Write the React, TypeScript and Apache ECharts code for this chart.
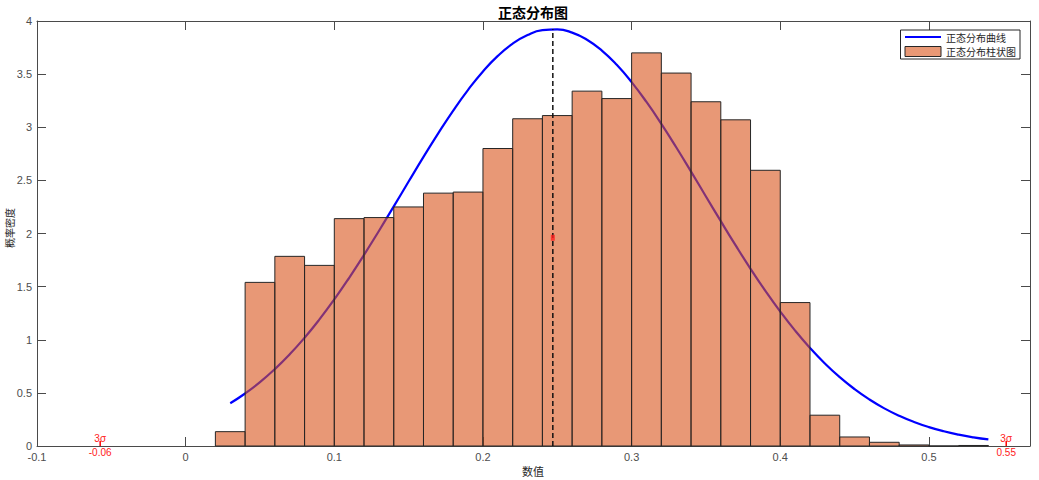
import React, { useEffect, useRef } from "react";
import * as echarts from "echarts";

// Histogram bins (left edge, right edge) and heights (probability density)
const binLeft = [0.02, 0.04, 0.06, 0.08, 0.10, 0.12, 0.14, 0.16, 0.18, 0.20, 0.22, 0.24, 0.26, 0.28, 0.30, 0.32, 0.34, 0.36, 0.38, 0.40, 0.42, 0.44, 0.46, 0.48, 0.50, 0.52];
const binRight = [0.04, 0.06, 0.08, 0.10, 0.12, 0.14, 0.16, 0.18, 0.20, 0.22, 0.24, 0.26, 0.28, 0.30, 0.32, 0.34, 0.36, 0.38, 0.40, 0.42, 0.44, 0.46, 0.48, 0.50, 0.52, 0.54];
const binHeight = [0.135, 1.54, 1.785, 1.70, 2.14, 2.15, 2.25, 2.38, 2.39, 2.80, 3.08, 3.11, 3.34, 3.27, 3.70, 3.51, 3.24, 3.07, 2.595, 1.35, 0.29, 0.085, 0.035, 0.01, 0, 0.005];

// Normal curve
const curveX = [0.03, 0.04, 0.05, 0.06, 0.07, 0.08, 0.09, 0.10, 0.11, 0.12, 0.13, 0.14, 0.15, 0.16, 0.17, 0.18, 0.19, 0.20, 0.21, 0.22, 0.23, 0.24, 0.25, 0.26, 0.27, 0.28, 0.29, 0.30, 0.31, 0.32, 0.33, 0.34, 0.35, 0.36, 0.37, 0.38, 0.39, 0.40, 0.41, 0.42, 0.43, 0.44, 0.45, 0.46, 0.47, 0.48, 0.49, 0.50, 0.51, 0.52, 0.53, 0.54];
const curveY = [0.4027, 0.4943, 0.6009, 0.7235, 0.8627, 1.0188, 1.1915, 1.3800, 1.5833, 1.7987, 2.0240, 2.2553, 2.4890, 2.7207, 2.9452, 3.1575, 3.3524, 3.5254, 3.6714, 3.7869, 3.8683, 3.9134, 3.9210, 3.8908, 3.8237, 3.7215, 3.5872, 3.4246, 3.2378, 3.0319, 2.8116, 2.5824, 2.3488, 2.1159, 1.8879, 1.6680, 1.4598, 1.2651, 1.0857, 0.9231, 0.7772, 0.6479, 0.5351, 0.4376, 0.3544, 0.2843, 0.2259, 0.1777, 0.1385, 0.1069, 0.0817, 0.0618];

// Mean line and half-peak marker
const meanX = 0.247;
const meanLineY = [0, 3.925];
const meanMarkY = 1.96;

// 3 sigma marks
const sigmaX = [-0.0575, 0.552];
const sigmaLabels = ["-0.06", "0.55"];

// Axes
const xMin = -0.1;
const xMax = 0.568;
const xInterval = 0.1;
const yMin = 0;
const yMax = 4;
const yInterval = 0.5;

const FONT = "'Liberation Sans', 'Noto Sans CJK SC', sans-serif";
const CJK = "'Noto Sans CJK SC', 'Liberation Sans', sans-serif";

export default function App() {
  const ref = useRef<HTMLDivElement>(null);

  useEffect(() => {
    if (!ref.current) return;
    const chart = echarts.init(ref.current, undefined, { renderer: "svg" });

    const axisLine = { show: true, onZero: false, lineStyle: { color: "#4a4a4a", width: 1 } };
    const tick = { show: true, inside: true, length: 9, lineStyle: { color: "#4a4a4a", width: 1 } };
    const fmt = (v: number) => String(Math.round(v * 100) / 100);

    const histData = binLeft.map((l, i) => [l, binRight[i], binHeight[i]]);
    const curveData = curveX.map((x, i) => [x, curveY[i]]);
    const meanData = meanLineY.map((y) => [meanX, y]);
    const sigmaData = sigmaX.map((x, i) => [x, 0, sigmaLabels[i]]);

    chart.setOption({
      animation: false,
      backgroundColor: "#ffffff",
      grid: { left: 37, right: 9, top: 21, bottom: 34, containLabel: false },
      legend: {
        orient: "vertical",
        right: 19,
        top: 30,
        itemWidth: 36,
        itemHeight: 10,
        itemGap: 4,
        padding: [2, 4, 2, 4],
        borderColor: "#262626",
        borderWidth: 1,
        backgroundColor: "#ffffff",
        textStyle: { fontSize: 10, color: "#262626", fontFamily: CJK },
        data: [
          {
            name: "正态分布曲线",
            icon: "path://M0,0L36,0L36,2.2L0,2.2Z",
            itemStyle: { color: "#0000ff", borderWidth: 0 },
          },
          {
            name: "正态分布柱状图",
            icon: "rect",
            itemStyle: { color: "rgb(232,152,117)", borderColor: "#262626", borderWidth: 1 },
          },
        ],
      },
      xAxis: [
        {
          type: "value",
          min: xMin,
          max: xMax,
          interval: xInterval,
          position: "bottom",
          axisLine,
          axisTick: tick,
          splitLine: { show: false },
          axisLabel: {
            color: "#4d4d4d",
            fontSize: 11,
            fontFamily: FONT,
            margin: 5,
            showMaxLabel: false,
            formatter: fmt,
          },
        },
        {
          type: "value",
          min: xMin,
          max: xMax,
          interval: xInterval,
          position: "top",
          axisLine,
          axisTick: tick,
          splitLine: { show: false },
          axisLabel: { show: false },
        },
      ],
      yAxis: [
        {
          type: "value",
          min: yMin,
          max: yMax,
          interval: yInterval,
          position: "left",
          axisLine,
          axisTick: tick,
          splitLine: { show: false },
          axisLabel: { color: "#4d4d4d", fontSize: 11, fontFamily: FONT, margin: 5, formatter: fmt },
        },
        {
          type: "value",
          min: yMin,
          max: yMax,
          interval: yInterval,
          position: "right",
          axisLine,
          axisTick: tick,
          splitLine: { show: false },
          axisLabel: { show: false },
        },
      ],
      series: [
        {
          name: "正态分布曲线",
          type: "line",
          data: curveData,
          smooth: true,
          showSymbol: false,
          symbol: "none",
          lineStyle: { color: "#0000ff", width: 2.2, join: "round" },
          itemStyle: { color: "#0000ff" },
          z: 2,
        },
        {
          name: "正态分布柱状图",
          type: "custom",
          data: histData,
          encode: { x: [0, 1], y: 2 },
          itemStyle: { color: "rgb(232,152,117)" },
          z: 3,
          renderItem: (params: any, api: any) => {
            const p0 = api.coord([api.value(0), api.value(2)]);
            const p1 = api.coord([api.value(1), 0]);
            return {
              type: "rect",
              shape: { x: p0[0], y: p0[1], width: p1[0] - p0[0], height: p1[1] - p0[1] },
              style: { fill: "rgba(217,84,26,0.6)", stroke: "#262626", lineWidth: 1 },
            };
          },
        },
        {
          name: "mean",
          type: "line",
          data: meanData,
          showSymbol: false,
          symbol: "none",
          lineStyle: { color: "#111111", width: 1.5, type: [5, 3] },
          z: 4,
          silent: true,
        },
        {
          name: "halfpeak",
          type: "scatter",
          data: [[meanX, meanMarkY]],
          symbol: "rect",
          symbolSize: [4, 6],
          itemStyle: { color: "#ff2020" },
          z: 5,
          silent: true,
        },
        {
          name: "sigma",
          type: "custom",
          data: sigmaData,
          encode: { x: 0, y: 1 },
          z: 5,
          silent: true,
          renderItem: (params: any, api: any) => {
            const p = api.coord([api.value(0), 0]);
            const label = sigmaLabels[params.dataIndex];
            return {
              type: "group",
              children: [
                {
                  type: "line",
                  shape: { x1: p[0], y1: p[1], x2: p[0], y2: p[1] - 5 },
                  style: { stroke: "#ff0000", lineWidth: 1.5 },
                },
                {
                  type: "text",
                  x: p[0],
                  y: p[1] - 3,
                  style: {
                    text: "3σ",
                    fill: "#ff2020",
                    fontSize: 10,
                    fontFamily: FONT,
                    align: "center",
                    verticalAlign: "bottom",
                  },
                },
                {
                  type: "text",
                  x: p[0],
                  y: p[1] + 1,
                  style: {
                    text: label,
                    fill: "#ff2020",
                    fontSize: 10,
                    fontFamily: FONT,
                    align: "center",
                    verticalAlign: "top",
                  },
                },
              ],
            };
          },
        },
      ],
      graphic: [
        {
          type: "text",
          x: 533,
          y: 12,
          style: {
            text: "正态分布图",
            fontSize: 14,
            fontWeight: "bold",
            fill: "#000000",
            fontFamily: CJK,
            align: "center",
            verticalAlign: "middle",
          },
        },
        {
          type: "text",
          x: 533,
          y: 471,
          style: {
            text: "数值",
            fontSize: 11,
            fill: "#262626",
            fontFamily: CJK,
            align: "center",
            verticalAlign: "middle",
          },
        },
        {
          type: "text",
          x: 9,
          y: 228,
          rotation: Math.PI / 2,
          style: {
            text: "概率密度",
            fontSize: 10,
            fill: "#262626",
            fontFamily: CJK,
            align: "center",
            verticalAlign: "middle",
          },
        },
      ],
    });

    return () => chart.dispose();
  }, []);

  return (
    <div
      ref={ref}
      style={{ position: "fixed", left: 0, top: 0, width: 1039, height: 480 }}
    />
  );
}
